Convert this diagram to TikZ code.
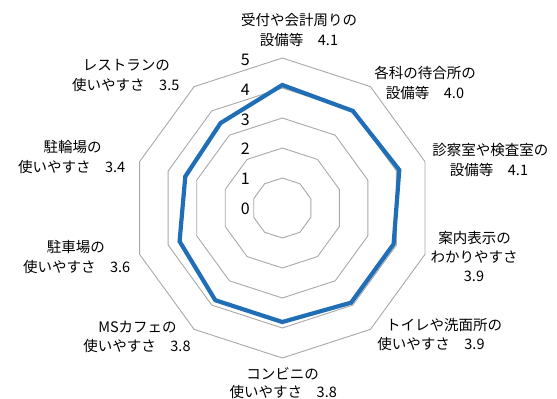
\documentclass[tikz,border=0pt]{standalone}
\usepackage{fontspec}
\setmainfont{Noto Sans CJK JP}
\definecolor{serieblue}{RGB}{31,110,182}
\definecolor{gridgray}{RGB}{168,168,168}
\begin{document}
\begin{tikzpicture}[x=1pt,y=-1pt,
  gridline/.style={draw=gridgray,line width=0.9pt},
  series/.style={draw=serieblue,line width=4.2pt,line join=miter},
  lbl/.style={inner sep=0pt,font=\fontsize{14.5}{17}\selectfont},
  axnum/.style={inner sep=0pt,anchor=east,font=\fontsize{16}{18}\selectfont}]
\useasboundingbox (0,0) rectangle (557,399);
\coordinate (c) at (282.3,208);
\begin{scope}[shift={(282.3,208)}]
  \foreach \lev in {1,...,5}{
    \draw[gridline] (-90:{30*\lev}) \foreach \i in {1,...,9}{ -- ({-90+36*\i}:{30*\lev})} -- cycle;
  }
  \foreach \v [count=\i from 0] in {4.1,4.0,4.1,3.9,3.9,3.8,3.8,3.6,3.4,3.5}{
    \coordinate (p\i) at ({-90+36*\i}:{30*\v});
  }
\end{scope}
\draw[series] (p0) -- (p1) -- (p2) -- (p3) -- (p4) -- (p5) -- (p6) -- (p7) -- (p8) -- (p9) -- cycle;
% axis numbers
\node[axnum] (n0) at (250,208.5) {0};
\node[axnum] (n1) at (250,178.8) {1};
\node[axnum] (n2) at (250,149.1) {2};
\node[axnum] (n3) at (250,119.4) {3};
\node[axnum] (n4) at (250,89.7) {4};
\node[axnum] (n5) at (250,60) {5};
% category labels
\node[lbl] (a0) at (299,20) {受付や会計周りの};
\node[lbl] (b0) at (299,39.5) {設備等　4.1};
\node[lbl] (a1) at (425,73.3) {各科の待合所の};
\node[lbl] (b1) at (425,93.3) {設備等　4.0};
\node[lbl] (a2) at (490.3,150) {診察室や検査室の};
\node[lbl] (b2) at (489,170) {設備等　4.1};
\node[lbl] (a3) at (474.5,238.3) {案内表示の};
\node[lbl] (b3) at (474,257.3) {わかりやすさ};
\node[lbl] (c3) at (474,276.7) {3.9};
\node[lbl] (a4) at (444,325) {トイレや洗面所の};
\node[lbl] (b4) at (431,344) {使いやすさ　3.9};
\node[lbl] (a5) at (282.5,373.3) {コンビニの};
\node[lbl] (b5) at (283.3,391.7) {使いやすさ　3.8};
\node[lbl] (a6) at (137.5,326.7) {MSカフェの};
\node[lbl] (b6) at (137,345.5) {使いやすさ　3.8};
\node[lbl] (a7) at (75.8,246.7) {駐車場の};
\node[lbl] (b7) at (76.7,266.7) {使いやすさ　3.6};
\node[lbl] (a8) at (72.5,146.7) {駐輪場の};
\node[lbl] (b8) at (71.7,166.7) {使いやすさ　3.4};
\node[lbl] (a9) at (126.3,65) {レストランの};
\node[lbl] (b9) at (125.8,85) {使いやすさ　3.5};
\end{tikzpicture}
\end{document}
